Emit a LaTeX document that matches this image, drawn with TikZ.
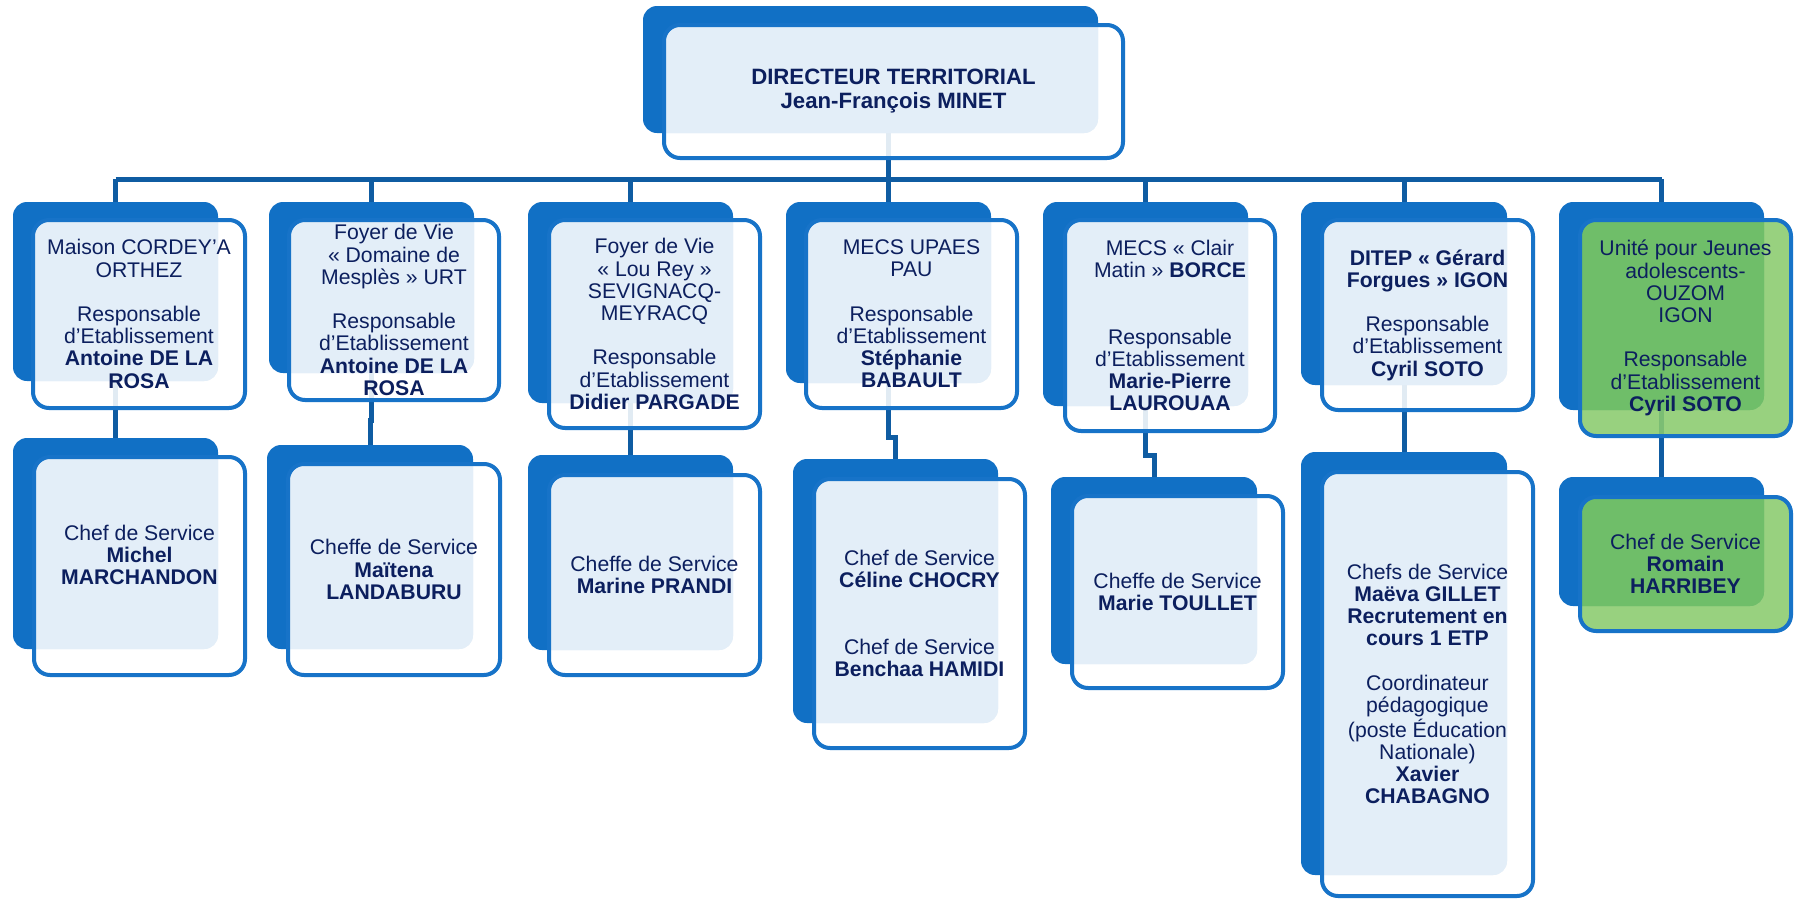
\documentclass[tikz,border=0pt]{standalone}
\usepackage{fontspec}
\setmainfont{Liberation Sans}
\usetikzlibrary{fit}
\definecolor{bblue}{HTML}{1170C5}
\definecolor{bord}{HTML}{1773C8}
\definecolor{connc}{HTML}{0F5CA2}
\definecolor{lite}{HTML}{E3EEF8}
\definecolor{navy}{HTML}{0C1F5E}
\definecolor{glite}{HTML}{8ACB6E}
\definecolor{gdark}{HTML}{6FBE69}
\pgfdeclarelayer{bg}\pgfsetlayers{bg,main}
\tikzset{
  backbox/.style={inner sep=0pt, outer sep=0pt, fill=bblue, rounded corners=7pt},
  frontfill/.style={fill=white},
  ovlfill/.style={fill=lite},
  frontbox/.style={inner sep=0pt, outer sep=0pt, frontfill, fill opacity=0.88, rounded corners=8pt},
  frontline/.style={draw=bord, line width=2pt, rounded corners=8pt},
  txt/.style={text=navy, align=center, font=\fontsize{10.6}{11.1}\selectfont, inner sep=0pt},
  toptxt/.style={text=navy, align=center, font=\fontsize{11.1}{12}\selectfont\bfseries, inner sep=0pt},
  link/.style={draw=connc, line width=2.5pt},
}
\newcommand\obox[9]{%
  \node[fit={(#2,#3) (#4,#5)}, backbox] (#1b) {};
  \node[fit={(#6+2,#7+2) (#8-2,#9-2)}, frontbox] (#1f) {};
  \begin{scope}
    \clip[rounded corners=8pt] (#1f.south west) rectangle (#1f.north east);
    \path[ovlfill, rounded corners=7pt] (#1b.south west) rectangle (#1b.north east);
  \end{scope}
  \path[frontline] (#1f.south west) rectangle (#1f.north east);
}
\begin{document}
\begin{tikzpicture}[x=0.5pt, y=-0.5pt]
\useasboundingbox (0,0) rectangle (1801,900);

% top
\obox{top}{643}{6}{1098}{133}{662}{23}{1125}{160}
\node[toptxt] (topt) at (topf) {DIRECTEUR TERRITORIAL\\Jean-François MINET};

% level 1
\obox{b1}{13}{202}{218}{381}{31}{218}{247}{410}
\obox{b2}{269}{202}{474}{373}{287}{218}{501}{402}
\obox{b3}{528}{202}{733}{403}{547}{218}{762}{430}
\obox{b4}{786}{202}{991}{383}{804}{218}{1019}{410}
\obox{b5}{1043}{202}{1248}{406}{1063}{218}{1277}{433}
\obox{b6}{1301}{202}{1507}{385}{1320}{218}{1535}{412}
\begin{scope}[frontfill/.style={fill=glite}, ovlfill/.style={fill=gdark}]
\obox{b7}{1559}{202}{1764}{410}{1578}{218}{1793}{438}
\end{scope}

% level 2
\obox{c1}{13}{438}{218}{649}{32}{455}{247}{677}
\obox{c2}{267}{445}{473}{649}{286}{462}{502}{677}
\obox{c3}{528}{455}{733}{650}{547}{473}{762}{677}
\obox{c4}{793}{459}{998}{723}{812}{477}{1027}{750}
\obox{c5}{1051}{477}{1257}{664}{1070}{494}{1285}{690}
\obox{c6}{1301}{452}{1507}{875}{1320}{470}{1535}{898}
\begin{scope}[frontfill/.style={fill=glite}, ovlfill/.style={fill=gdark}]
\obox{c7}{1559}{477}{1764}{606}{1578}{495}{1793}{633}
\end{scope}

% texts level 1
\node[txt] (b1t) at (b1f) {Maison CORDEY’A\\ORTHEZ\\~\\Responsable\\d’Etablissement\\\textbf{Antoine DE LA}\\\textbf{ROSA}};
\node[txt] (b2t) at (b2f) {Foyer de Vie\\« Domaine de\\Mesplès » URT\\~\\Responsable\\d’Etablissement\\\textbf{Antoine DE LA}\\\textbf{ROSA}};
\node[txt] (b3t) at (b3f) {Foyer de Vie\\« Lou Rey »\\SEVIGNACQ-\\MEYRACQ\\~\\Responsable\\d’Etablissement\\\textbf{Didier PARGADE}};
\node[txt] (b4t) at (b4f) {MECS UPAES\\PAU\\~\\Responsable\\d’Etablissement\\\textbf{Stéphanie}\\\textbf{BABAULT}};
\node[txt] (b5t) at (b5f) {MECS « Clair\\Matin » \textbf{BORCE}\\~\\~\\Responsable\\d’Etablissement\\\textbf{Marie-Pierre}\\\textbf{LAUROUAA}};
\node[txt] (b6t) at (b6f) {\textbf{DITEP « Gérard}\\\textbf{Forgues » IGON}\\~\\Responsable\\d’Etablissement\\\textbf{Cyril SOTO}};
\node[txt] (b7t) at (b7f) {Unité pour Jeunes\\adolescents-\\OUZOM\\IGON\\~\\Responsable\\d’Etablissement\\\textbf{Cyril SOTO}};

% texts level 2
\node[txt] (c1t) at ([yshift=5.5pt]c1f.center) {Chef de Service\\\textbf{Michel}\\\textbf{MARCHANDON}};
\node[txt] (c2t) at (c2f) {Cheffe de Service\\\textbf{Maïtena}\\\textbf{LANDABURU}};
\node[txt] (c3t) at (c3f) {Cheffe de Service\\\textbf{Marine PRANDI}};
\node[txt] (c4t) at (c4f) {Chef de Service\\\textbf{Céline CHOCRY}\\~\\~\\Chef de Service\\\textbf{Benchaa HAMIDI}};
\node[txt] (c5t) at (c5f) {Cheffe de Service\\\textbf{Marie TOULLET}};
\node[txt] (c6t) at (c6f) {Chefs de Service\\\textbf{Maëva GILLET}\\\textbf{Recrutement en}\\\textbf{cours 1 ETP}\\~\\Coordinateur\\pédagogique\\(poste Éducation\\Nationale)\\\textbf{Xavier}\\\textbf{CHABAGNO}};
\node[txt] (c7t) at (c7f) {Chef de Service\\\textbf{Romain}\\\textbf{HARRIBEY}};

% connectors
\coordinate (bus) at (888,179);
\coordinate (j2) at (0,420);
\coordinate (j4) at (0,437);
\coordinate (j5) at (0,455);
\begin{pgfonlayer}{bg}
\fill[white] (0,0) rectangle (1801,900);
\draw[link] (topb.south -| bus) -- (bus);
\draw[link] (b1b.north |- bus) -- (b7b.north |- bus);
\foreach \i in {1,...,7} { \draw[link] (b\i b.north |- bus) -- (b\i b.north); }
\draw[link] (b1b.south) -- (c1b.north);
\draw[link] (b2b.south) -- (b2b.south |- j2) -| (c2b.north);
\draw[link] (b3b.south) -- (c3b.north);
\draw[link] (b4b.south) -- (b4b.south |- j4) -| (c4b.north);
\draw[link] (b5b.south) -- (b5b.south |- j5) -| (c5b.north);
\draw[link] (b6b.south) -- (c6b.north);
\draw[link] (b7b.south) -- (c7b.north);
\end{pgfonlayer}
\end{tikzpicture}
\end{document}
